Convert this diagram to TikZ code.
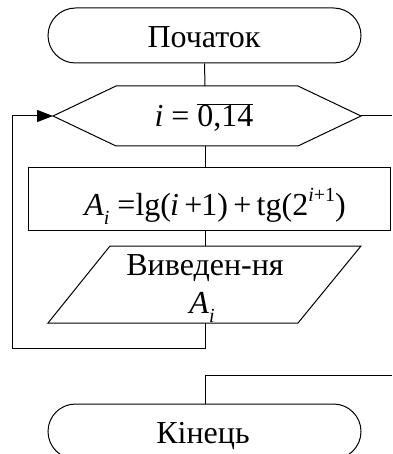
\documentclass[tikz,border=0pt]{standalone}
\usepackage{fontspec}
\setmainfont{Liberation Serif}
\usetikzlibrary{arrows.meta}
\newcommand{\vi}{\textit{i}}
\newcommand{\subi}{\raisebox{-0.3em}{\fontsize{20}{22}\selectfont\textit{i}}}
\begin{document}
\begin{tikzpicture}[x=1pt,y=-1pt,line width=1pt,
  txt/.style={font=\fontsize{32}{36}\selectfont, inner sep=0pt, anchor=base},
  term/.style={draw, rounded corners=27.5pt, minimum width=313pt, minimum height=55pt, inner sep=0pt},
  arr/.style={-{Triangle[length=16pt,width=12pt]}}]
\useasboundingbox (0,0) rectangle (392,454);
% start
\node[term] (start) at (204.5,35.5) {};
\node[txt] (starttxt) at (204,48) {Початок};
% hexagon
\coordinate (hexL) at (53,116);
\coordinate (hexR) at (361,116);
\coordinate (hexT) at (205,86);
\coordinate (hexB) at (205,146);
\draw (hexL) -- (116,86) -- (298,86) -- (hexR) -- (298,146) -- (116,146) -- cycle;
\node[txt] (loop) at (204,127) {\vi\ = $\overline{\hbox{0,14}}$};
% process
\node[draw, minimum width=362pt, minimum height=63pt, inner sep=0pt, anchor=north west] (proc) at (28,167) {};
\node[txt] (ftxt) at (215,215) {\textit{A}\subi\ =lg(\kern-1pt\vi\,+\kern-1pt1)\,+\,tg(2\raisebox{0.42em}{\fontsize{20}{22}\selectfont\vi+1})};
% output parallelogram
\coordinate (ioT) at (205,246);
\coordinate (ioB) at (205,323);
\draw (110,246) -- (361,246) -- (298,323) -- (48,323) -- cycle;
\node[txt] (io1) at (205,275) {Виведен-ня};
\node[txt] (io2) at (202,313) {\textit{A}\subi};
% end
\node[term] (end) at (204.5,431.5) {};
\node[txt] (endtxt) at (203,443) {Кінець};
% connectors
\draw (start.south) -- (hexT);
\draw (hexB) -- (proc.north -| hexB);
\draw (proc.south -| ioT) -- (ioT);
\coordinate (lb1) at (205,348);
\coordinate (lb2) at (12,348);
\coordinate (lb3) at (12,116);
\draw[arr] (ioB) -- (lb1) -- (lb2) -- (lb3) -- (hexL);
\coordinate (ex1) at (392,116);
\coordinate (ex2) at (392,375);
\coordinate (ex3) at (205,375);
\draw (hexR) -- (ex1);
\draw (ex2) -- (ex3) -- (end.north -| ex3);
\end{tikzpicture}
\end{document}
